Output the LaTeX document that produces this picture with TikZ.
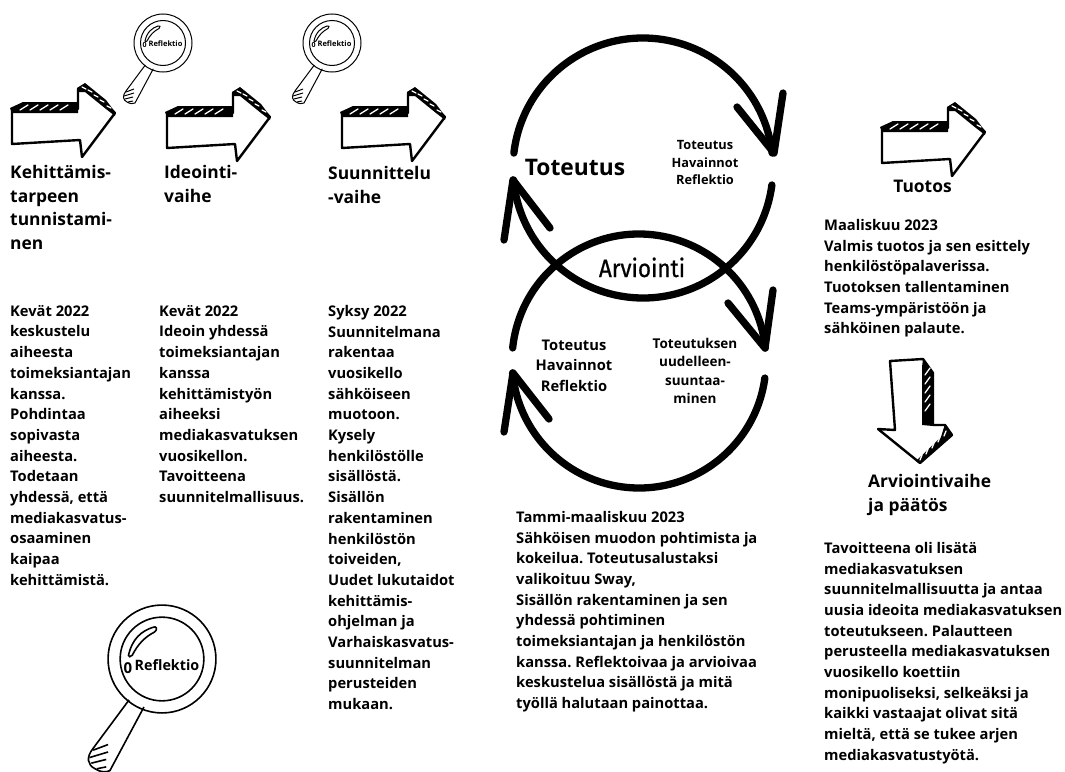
\documentclass[tikz,border=0pt]{standalone}
\usepackage{fontspec}
\setmainfont{Open Sans}
\newfontfamily\handfont[FakeBold=0.7,FakeStretch=0.9]{Fira Sans}
\tikzset{
  x=1pt,y=-1pt,
  body/.style={anchor=north west,inner sep=0pt,align=left,font=\fontsize{14.7}{20.7}\selectfont\bfseries\frenchspacing},
  labelc/.style 2 args={anchor=north,inner sep=0pt,align=center,font=\fontsize{#1}{#2}\selectfont\bfseries},
  head/.style={anchor=north west,inner sep=0pt,align=left,font=\fontsize{17.4}{23.6}\selectfont\bfseries},
  loopline/.style={line width=7.3pt,line cap=round,line join=round,black},
  sketch/.style={line width=2.4pt,line join=round,line cap=round,black},
  lens/.style={line width=1pt,black},
  hatch/.style={white,line width=1.3pt,line cap=round},
  rightarrow/.pic={
    \draw[sketch,fill=white] (2,26) -- (2,61) -- (70,57) -- (72,74) -- (105,30) -- (75,2) -- (68,6) -- (68,26) -- cycle;
    \fill[black] (0,25) -- (13,19) -- (68,19) -- (68,30) -- (2,30) -- cycle;
    \fill[black] (67,5) -- (75,0) -- (96,17) -- (105,29) -- (105,33) -- (96,26) -- (75,9) -- (67,9) -- cycle;
    \foreach \a in {10,20,30,40,50}{\draw[hatch] (\a,27) -- (\a+8,22);}
    \foreach \a/\b in {72/4,78/7,84/12,90/17,97/23}{\draw[hatch] (\a,\b) -- (\a+4,\b+2);}
  },
  downarrow/.pic={
    \draw[sketch,fill=white] (15,2) -- (48,0) -- (58,14) -- (58,66) -- (70,66) -- (77,76) -- (45,104) -- (3,70) -- (20,71) -- cycle;
    \fill[black] (48,0) -- (58,14) -- (58,67) -- (47,66) -- (47,8) -- cycle;
    \fill[black] (70,65) -- (78,76) -- (45,105) -- (41,102) -- (66,78) -- cycle;
    \foreach \a in {16,25,34,43,52}{\draw[hatch] (50,\a) -- (55,\a-7);}
    \foreach \a/\b in {71/72,65/78,59/84,53/90,47/96}{\draw[hatch] (\a,\b) -- (\a-2,\b+5);}
  },
  glass/.pic={
    \draw[lens] (0,0) circle[radius=29];
    \draw[lens] (0,0) circle[radius=22.5];
    \draw[lens] (-17.7,22) -- (-37,48) .. controls (-41,53) and (-40,57) .. (-36,59) .. controls (-33,61) and (-30,61) .. (-28,60) -- (-9.7,25.8);
    \draw[lens] (-37,49) -- (-29,46) (-39,53) -- (-29,50) (-38,56) -- (-30,54) (-35,59) -- (-30,58);
    \draw[lens] (-18,-2) .. controls (-16,-11) and (-11,-15) .. (-5,-17) .. controls (-3,-18) and (-2,-16) .. (-4,-14.5) .. controls (-9,-12) and (-13,-8) .. (-16,-2) .. controls (-17,-1) and (-18,-1) .. (-18,-2) -- cycle;
  }
}
\begin{document}
\begin{tikzpicture}
\useasboundingbox (0,0) rectangle (1065,771);
% arrows
\pic at (10,83) {rightarrow};
\pic at (165,87) {rightarrow};
\pic at (340,87) {rightarrow};
\pic at (880,102) {rightarrow};
\pic at (875,359) {downarrow};
% magnifiers
\pic at (163,43) {glass};
\node[inner sep=0pt,font=\fontsize{7.5}{8}\selectfont\bfseries] (rs1) at (165.5,43.5) {Reflektio};
\node[inner sep=0pt,font=\fontsize{7}{8}\selectfont\bfseries] (zs1) at (144.5,45) {0};
\pic at (332,43) {glass};
\node[inner sep=0pt,font=\fontsize{7.5}{8}\selectfont\bfseries] (rs2) at (334.5,43.5) {Reflektio};
\node[inner sep=0pt,font=\fontsize{7}{8}\selectfont\bfseries] (zs2) at (313.5,45) {0};
\pic[scale=1.86,transform shape,lens/.style={line width=1.6pt,black}] at (162,659) {glass};
\node[inner sep=0pt,font=\fontsize{14.3}{15}\selectfont\bfseries] (rb) at (167,665) {Reflektio};
\node[inner sep=0pt,font=\fontsize{15}{15}\selectfont\bfseries] (zb) at (128,668) {0};
% headings
\node[head] (h1) at (10,165) {Kehittämis-\\tarpeen\\tunnistami-\\nen};
\node[head] (h2) at (164,165) {Ideointi-\\vaihe};
\node[head] (h3) at (328,166) {Suunnittelu\\-vaihe};
\node[head,anchor=north] (h4) at (922.5,180) {Tuotos};
\node[head] (h5) at (868,474) {Arviointivaihe\\ja päätös};
\node[inner sep=0pt,anchor=base,font=\fontsize{22.8}{24}\selectfont\bfseries] (tt) at (575,175) {Toteutus};
\node[inner sep=0pt,anchor=base,font=\fontsize{25}{26}\selectfont\handfont] (ar) at (642,277) {Arviointi};
\node[labelc={12.8}{17.7}] (l1) at (705,140) {Toteutus\\Havainnot\\Reflektio};
\node[labelc={14.7}{20.5}] (l2) at (574,339.5) {Toteutus\\Havainnot\\Reflektio};
\node[labelc={13.5}{18.3}] (l3) at (695,338) {Toteutuksen\\uudelleen-\\suuntaa-\\minen};
% body
\node[body] (b1) at (10,305) {Kevät 2022\\keskustelu\\aiheesta\\toimeksiantajan\\kanssa.\\Pohdintaa\\sopivasta\\aiheesta.\\Todetaan\\yhdessä, että\\mediakasvatus-\\osaaminen\\kaipaa\\kehittämistä.};
\node[body] (b2) at (159,305) {Kevät 2022\\Ideoin yhdessä\\toimeksiantajan\\kanssa\\kehittämistyön\\aiheeksi\\mediakasvatuksen\\vuosikellon.\\Tavoitteena\\suunnitelmallisuus.};
\node[body] (b3) at (328,305) {Syksy 2022\\Suunnitelmana\\rakentaa\\vuosikello\\sähköiseen\\muotoon.\\Kysely\\henkilöstölle\\sisällöstä.\\Sisällön\\rakentaminen\\henkilöstön\\toiveiden,\\Uudet lukutaidot\\kehittämis-\\ohjelman ja\\Varhaiskasvatus-\\suunnitelman\\perusteiden\\mukaan.};
\node[body] (b4) at (824,219) {Maaliskuu 2023\\Valmis tuotos ja sen esittely\\henkilöstöpalaverissa.\\Tuotoksen tallentaminen\\Teams-ympäristöön ja\\sähköinen palaute.};
\node[body] (b5) at (516,511) {Tammi-maaliskuu 2023\\Sähköisen muodon pohtimista ja\\kokeilua. Toteutusalustaksi\\valikoituu Sway,\\Sisällön rakentaminen ja sen\\yhdessä pohtiminen\\toimeksiantajan ja henkilöstön\\kanssa. Reflektoivaa ja arvioivaa\\keskustelua sisällöstä ja mitä\\työllä halutaan painottaa.};
\node[body] (b6) at (824,542) {Tavoitteena oli lisätä\\mediakasvatuksen\\suunnitelmallisuutta ja antaa\\uusia ideoita mediakasvatuksen\\toteutukseen. Palautteen\\perusteella mediakasvatuksen\\vuosikello koettiin\\monipuoliseksi, selkeäksi ja\\kaikki vastaajat olivat sitä\\mieltä, että se tukee arjen\\mediakasvatustyötä.};
% loops
\coordinate (c1) at (643,168);
\coordinate (c2) at (639,361);
\coordinate (t1) at (774,153);
\coordinate (t1a) at (783,93);
\coordinate (t1b) at (737,107);
\coordinate (t2) at (513,180);
\coordinate (t2a) at (504,240);
\coordinate (t2b) at (550,228);
\coordinate (t3) at (765,348);
\coordinate (t3a) at (773,290);
\coordinate (t3b) at (728,303);
\coordinate (t4) at (513,373);
\coordinate (t4a) at (504,432);
\coordinate (t4b) at (549,419);
\draw[loopline] (c1) ++(186.6:130) arc[start angle=186.6,end angle=353.4,radius=130];
\draw[loopline] (t1a) -- (t1) -- (t1b);
\draw[loopline] (c1) ++(7.5:130) arc[start angle=7.5,end angle=174.7,radius=130];
\draw[loopline] (t2a) -- (t2) -- (t2b);
\draw[loopline] (c2) ++(185.9:127) arc[start angle=185.9,end angle=354.1,radius=127];
\draw[loopline] (t3a) -- (t3) -- (t3b);
\draw[loopline] (c2) ++(7.7:127) arc[start angle=7.7,end angle=174.6,radius=127];
\draw[loopline] (t4a) -- (t4) -- (t4b);
\end{tikzpicture}
\end{document}
